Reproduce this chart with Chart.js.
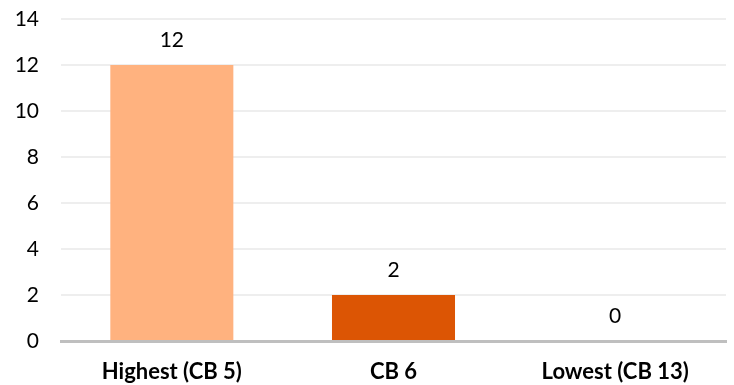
<!DOCTYPE html>
<html>
<head>
<meta charset="utf-8">
<script src="https://cdn.jsdelivr.net/npm/chart.js@4/dist/chart.umd.min.js"></script>
<style>
  html, body { margin: 0; padding: 0; background: #fff; }
  canvas { display: block; }
</style>
</head>
<body>
<canvas id="chart" width="734" height="385"></canvas>
<script>
// chart data
const categories = ["Highest (CB 5)", "CB 6", "Lowest (CB 13)"];
const counts = [12, 2, 0];
const barColors = ["#FFB27F", "#DC5504", "#DC5504"];

// draws the value above each bar
const valueLabels = {
  id: "valueLabels",
  afterDatasetsDraw(chart) {
    const ctx = chart.ctx;
    const meta = chart.getDatasetMeta(0);
    ctx.save();
    ctx.font = "21px Lato, sans-serif";
    ctx.fillStyle = "#000";
    ctx.textAlign = "center";
    ctx.textBaseline = "middle";
    meta.data.forEach((bar, i) => {
      ctx.fillText(String(counts[i]), bar.x, bar.y - 25);
    });
    ctx.restore();
  }
};

new Chart(document.getElementById("chart"), {
  type: "bar",
  data: {
    labels: categories,
    datasets: [{
      data: counts,
      backgroundColor: barColors,
      categoryPercentage: 1,
      barPercentage: 0.555
    }]
  },
  options: {
    responsive: false,
    animation: false,
    layout: { padding: { top: 0, right: 8, left: 0, bottom: 0 } },
    plugins: {
      legend: { display: false },
      tooltip: { enabled: false }
    },
    scales: {
      x: {
        grid: { display: false, drawTicks: false },
        border: { color: "#BFBFBF", width: 3 },
        ticks: {
          color: "#000",
          padding: 18,
          font: { family: "Lato, sans-serif", size: 22, weight: "bold" }
        },
        afterFit: (scale) => { scale.height = 44; }
      },
      y: {
        min: 0,
        max: 14,
        ticks: {
          stepSize: 2,
          color: "#000",
          padding: 22,
          font: { family: "Lato, sans-serif", size: 21 }
        },
        grid: { color: "#EEEEEE", lineWidth: 2, drawTicks: false },
        border: { display: false },
        // tick padding also pads the top, so set it by hand
        afterFit: (scale) => { scale.width = 61; scale.paddingTop = 19; }
      }
    }
  },
  plugins: [valueLabels]
});
</script>
</body>
</html>
